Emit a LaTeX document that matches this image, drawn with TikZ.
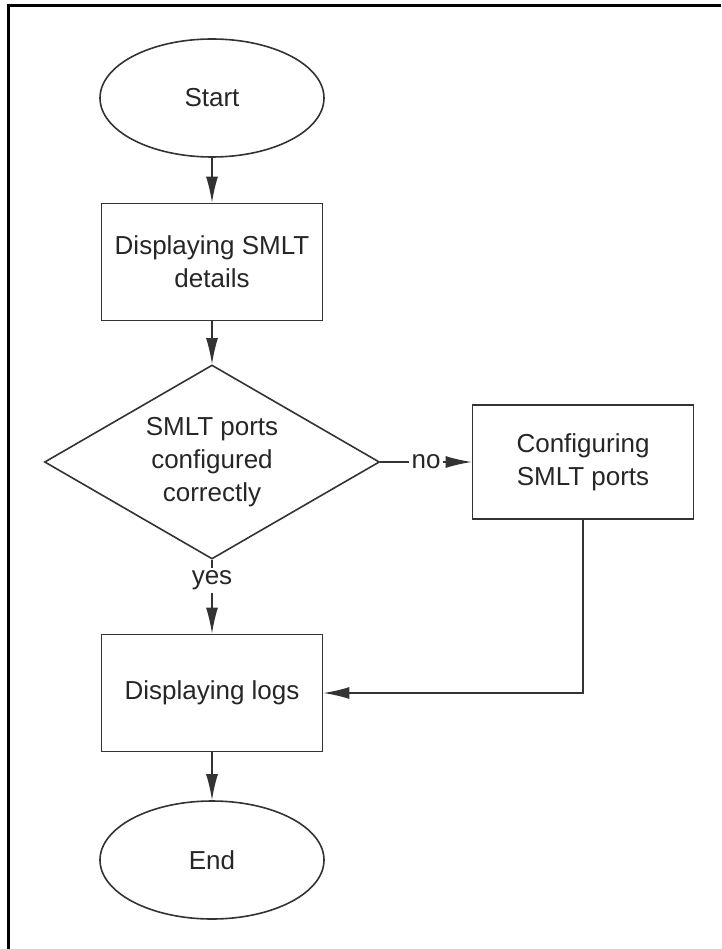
\documentclass[tikz,border=0pt]{standalone}
\usepackage{fontspec}
\setmainfont{Liberation Sans}
\usepackage{tikz}
\usetikzlibrary{shapes.geometric}
\usetikzlibrary{arrows.meta}

\begin{document}
\begin{tikzpicture}[
    x=1pt,
    y=-1pt,
    >={Latex[length=26pt,width=12pt]},
    line width=1.6pt,
    every node/.style={font=\fontsize{26}{33}\selectfont, text=black!85},
    terminal/.style={draw=black!80, ellipse, minimum width=224pt, minimum height=118pt, inner sep=0pt},
    process/.style={draw=black!80, rectangle, minimum width=221pt, minimum height=117pt, align=center, inner sep=0pt},
    decision/.style={draw=black!80, diamond, aspect=1.74, minimum width=335pt, minimum height=194pt, align=center, inner sep=0pt},
    flow/.style={->, draw=black!80},
    answer/.style={fill=white, inner sep=3pt}
]

%------------------------------------------------------------
% Page and frame
%------------------------------------------------------------

\useasboundingbox (0,0) rectangle (721,949);

\coordinate (FB) at (8.5,949);   % bottom end of frame
\coordinate (FC) at (8.5,5.5);   % corner
\coordinate (FR) at (721,5.5);   % right end of frame

\draw[line width=3pt]
(FB)--(FC)--(FR);

%------------------------------------------------------------
% Flow chart nodes
%------------------------------------------------------------

\node[terminal] (start)
at (212,98)
{Start};

\node[process] (smlt)
at (212,262)
{Displaying SMLT\\details};

\node[decision] (check)
at (212,462)
{SMLT ports\\configured\\correctly};

\node[process, minimum height=114pt] (config)
at (583,462)
{Configuring\\SMLT ports};

\node[process] (logs)
at (212,693)
{Displaying logs};

\node[terminal] (end)
at (212,860)
{End};

%------------------------------------------------------------
% Connectors
%------------------------------------------------------------

\draw[flow]
(start)--(smlt);

\draw[flow]
(smlt)--(check);

% no
\draw[flow]
(check)--node[answer]{no}(config);

% yes
\draw[flow]
(check)--node[answer, pos=0.28]{yes}(logs);

% back to logs
\draw[flow]
(config)|-(logs);

\draw[flow]
(logs)--(end);

\end{tikzpicture}
\end{document}
